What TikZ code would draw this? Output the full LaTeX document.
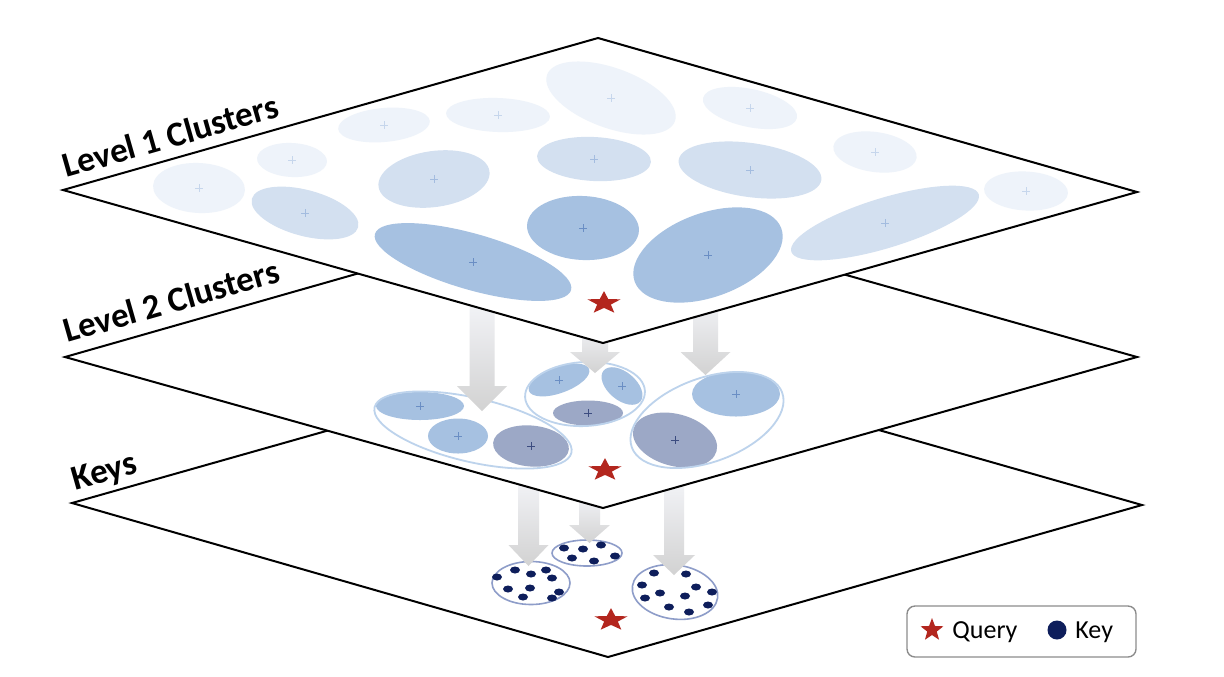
\documentclass[tikz,border=0pt]{standalone}
\usepackage{fontspec}
\setmainfont{Carlito}
\definecolor{lt}{HTML}{EEF3FA}
\definecolor{md}{HTML}{D3E0F0}
\definecolor{dk}{HTML}{A6C1E1}
\definecolor{pp}{HTML}{9CA8C6}
\definecolor{ltmkc}{HTML}{C6D6EC}
\definecolor{mdmkc}{HTML}{A3BCDF}
\definecolor{dkmkc}{HTML}{6A8EC4}
\definecolor{ppmkc}{HTML}{3C4C80}
\definecolor{outl}{HTML}{BDD3EC}
\definecolor{keyout}{HTML}{8E9DC9}
\definecolor{navy}{HTML}{0E1E5B}
\definecolor{starred}{HTML}{B3261E}
\definecolor{arrtop}{HTML}{F6F7FB}
\definecolor{arrbot}{HTML}{D2D2D2}
\definecolor{legendgray}{HTML}{8C8C8C}
\tikzset{
  plane/.style={fill=white, draw=black, line width=1pt, line join=miter},
  ltmk/.style={draw=ltmkc}, mdmk/.style={draw=mdmkc},
  dkmk/.style={draw=dkmkc}, ppmk/.style={draw=ppmkc},
  clout/.style={draw=outl, line width=0.9pt},
  keyring/.style={draw=keyout, line width=0.8pt},
  lbl/.style={font=\bfseries\fontsize{17.5}{20}\selectfont, inner sep=0pt},
  lgd/.style={font=\fontsize{13}{15}\selectfont, inner sep=0pt, anchor=base west},
  garrow/.style={top color=arrtop, bottom color=arrbot, draw=none}
}
% style, x, y, rx, ry, rotation
\newcommand\blob[6]{%
  \fill[#1, rotate around={#6:(#2,#3)}] (#2,#3) ellipse [x radius=#4, y radius=#5];
  \draw[#1mk, line width=0.4pt] (#2-4,#3) -- (#2+4,#3) (#2,#3-4) -- (#2,#3+4);}
% style, x, y, rx, ry, rotation
\newcommand\ring[6]{%
  \draw[#1, rotate around={#6:(#2,#3)}] (#2,#3) ellipse [x radius=#4, y radius=#5];}
% x, y, outer, inner, yscale
\newcommand\qstar[5]{%
  \fill[starred, shift={(#1,#2)}, yscale=#5] (-90:#3) -- (-54:#4) -- (-18:#3) -- (18:#4) -- (54:#3) -- (90:#4) -- (126:#3) -- (162:#4) -- (198:#3) -- (234:#4) -- cycle;}
% x, ytop, yhead, ytip, shaft half, head half
\newcommand\garr[6]{%
  \shade[garrow] (#1-#5,#2) -- (#1+#5,#2) -- (#1+#5,#3) -- (#1+#6,#3) -- (#1,#4) -- (#1-#6,#3) -- (#1-#5,#3) -- cycle;}
\newcommand\kdot[2]{\fill[navy] (#1,#2) ellipse [x radius=5, y radius=3.5];}
\begin{document}
\begin{tikzpicture}[x=0.5pt,y=-0.5pt]
\useasboundingbox (0,0) rectangle (1224,676);

% ---------- bottom plane ----------
\draw[plane] (72,503) -- (605,352) -- (1142,505) -- (608,657) -- cycle;
\ring{keyring}{531}{583}{39}{21.5}{0}
\ring{keyring}{587}{553}{35}{13}{0}
\ring{keyring}{675}{592}{43}{27}{-8}
\foreach \x/\y in {497/577,515/570,531/574,546/570,552/578,508/589,530/588,523/597,552/598,559/592,
                   564/548,583/549,601/545,615/556,572/558,594/561,
                   654/573,686/574,642/585,696/587,712/592,660/593,685/596,645/598,708/605,669/607,689/612}
  {\kdot{\x}{\y}}
\qstar{611}{620}{17.5}{7.2}{0.68}
\garr{528.5}{470}{545}{566}{10.5}{20}
\garr{589.5}{490}{525}{543}{10.5}{20.5}
\garr{674}{470}{555}{575}{10}{21}

% ---------- middle plane ----------
\draw[plane] (65,357) -- (598,205) -- (1137,357) -- (603,508) -- cycle;
\blob{dk}{420}{406}{44}{14}{0}
\blob{dk}{458}{436}{30}{17.5}{0}
\blob{pp}{531}{446}{38}{20.5}{-5}
\blob{dk}{559}{380}{32}{13}{20}
\blob{dk}{622}{386}{24}{14}{-40}
\blob{pp}{588}{413}{35}{12.5}{0}
\blob{dk}{736}{394}{44}{22.5}{0}
\blob{pp}{675}{440}{43}{26}{-15}
\ring{clout}{473}{430}{101}{32}{-13}
\ring{clout}{585}{394}{60}{32}{3}
\ring{clout}{707}{420}{80}{42}{20}
\qstar{605}{470}{17.5}{7.2}{0.68}
\garr{482}{290}{386}{411}{12.5}{25}
\garr{595}{320}{352}{373}{13}{25}
\garr{705.5}{290}{352}{375}{12.5}{25}

% ---------- top plane ----------
\draw[plane] (63,190) -- (598,38) -- (1137,192) -- (603,343) -- cycle;
\blob{lt}{199}{188}{46}{25}{-3}
\blob{lt}{292}{160}{35}{17}{-3}
\blob{lt}{384}{125}{46}{17}{5}
\blob{lt}{498}{115}{52}{17}{-2}
\blob{lt}{611}{98}{68}{30}{-20}
\blob{lt}{750}{108}{48}{19}{-12}
\blob{lt}{875}{152}{42}{20}{-8}
\blob{lt}{1026}{191}{42}{19.5}{-3}
\blob{md}{305}{213}{55}{23}{-15}
\blob{md}{434}{179}{56}{28}{8}
\blob{md}{594}{159}{57}{22}{-3}
\blob{md}{750}{170}{72}{27}{-8}
\blob{md}{885}{223}{98}{25}{17}
\blob{dk}{473}{262}{102}{28}{-16}
\blob{dk}{583}{228}{56}{32}{-3}
\blob{dk}{708}{255}{78}{42}{20}
\qstar{604}{303}{17.5}{7.2}{0.68}

% ---------- labels ----------
\node[lbl, rotate=15.9, anchor=base west] (l1) at (66,178) {Level 1 Clusters};
\node[lbl, rotate=15.9, anchor=base west] (l2) at (67,343) {Level 2 Clusters};
\node[lbl, rotate=15.8, anchor=base west] (l3) at (75,491) {Keys};

% ---------- legend ----------
\draw[draw=legendgray, line width=0.7pt, fill=white, rounded corners=4pt] (907,606) rectangle (1136,657);
\qstar{932}{630}{12}{5}{1}
\node[lgd] (q) at (952,638) {Query};
\fill[navy] (1057,630) circle [radius=9.5];
\node[lgd] (k) at (1075,638) {Key};
\end{tikzpicture}
\end{document}
